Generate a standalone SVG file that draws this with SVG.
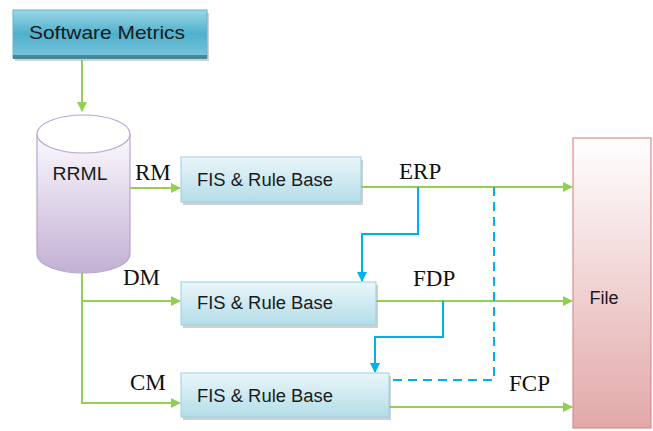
<svg xmlns="http://www.w3.org/2000/svg" width="653" height="431" viewBox="0 0 653 431">
<defs>
<linearGradient id="gTop" x1="0" y1="0" x2="0" y2="1">
<stop offset="0" stop-color="#9dd6e6"/>
<stop offset="0.5" stop-color="#4fb0cc"/>
<stop offset="1" stop-color="#7cc6dc"/>
</linearGradient>
<linearGradient id="gBox" x1="0" y1="0" x2="0" y2="1">
<stop offset="0" stop-color="#eaf6fa"/>
<stop offset="1" stop-color="#b3dde8"/>
</linearGradient>
<linearGradient id="gCyl" x1="0" y1="0" x2="0" y2="1">
<stop offset="0" stop-color="#fbf9fd"/>
<stop offset="1" stop-color="#c3b0d4"/>
</linearGradient>
<linearGradient id="gFile" x1="0" y1="0" x2="0" y2="1">
<stop offset="0" stop-color="#ffffff"/>
<stop offset="1" stop-color="#e2a8a8"/>
</linearGradient>
<marker id="ag" markerWidth="10" markerHeight="10" refX="9" refY="5" orient="auto" markerUnits="userSpaceOnUse">
<path d="M0,0 L10,5 L0,10 Z" fill="#92d050"/>
</marker>
<marker id="ab" markerWidth="10" markerHeight="10" refX="9" refY="5" orient="auto" markerUnits="userSpaceOnUse">
<path d="M0,0 L10,5 L0,10 Z" fill="#00b0f0"/>
</marker>
</defs>
<style>
.green{fill:none;stroke:#92d050;stroke-width:2}
.blue{fill:none;stroke:#00b0f0;stroke-width:2}
.dash{stroke-dasharray:9,6}
.box{fill:url(#gBox);stroke:#9ccfdd;stroke-width:1}
.shadow{fill:#9a9a9a;opacity:0.45}
.sans{font-family:"Liberation Sans",Arial,sans-serif;fill:#1a1a1a}
.serif{font-family:"Liberation Serif","Times New Roman",serif;font-size:23px;fill:#111}
</style>

<g id="connectors">
<path class="green" d="M82,60 V111" marker-end="url(#ag)"/>
<path class="green" d="M130,188 H180" marker-end="url(#ag)"/>
<path class="green" d="M82,272 V403 H180" marker-end="url(#ag)"/>
<path class="green" d="M82,301 H180" marker-end="url(#ag)"/>
<path class="green" d="M361,187 H572" marker-end="url(#ag)"/>
<path class="green" d="M376,301 H572" marker-end="url(#ag)"/>
<path class="green" d="M389,407 H572" marker-end="url(#ag)"/>
<path class="blue" d="M418,187 V234 H362 V281" marker-end="url(#ab)"/>
<path class="blue" d="M443,301 V337 H375 V372" marker-end="url(#ab)"/>
<path class="blue dash" d="M494,187 V380 H391"/>
</g>

<g id="software-metrics">
<rect x="15" y="13" width="194" height="48" class="shadow"/>
<rect x="13" y="10" width="194" height="48" fill="url(#gTop)" stroke="#5cb6cf" stroke-width="1"/>
<rect x="13" y="55" width="194" height="4" fill="#2f6f80" opacity="0.7"/>
<text x="107" y="39" text-anchor="middle" class="sans" font-size="19" textLength="156" lengthAdjust="spacingAndGlyphs">Software Metrics</text>
</g>

<g id="rrml">
<path d="M37,134 V254 A46.5,19 0 0 0 130,254 V134" fill="url(#gCyl)" stroke="#b7a5cf" stroke-width="1.2"/>
<ellipse cx="83.5" cy="134" rx="46.5" ry="19" fill="#ffffff" stroke="#b7a5cf" stroke-width="1.2"/>
<text x="80" y="180" text-anchor="middle" class="sans" font-size="18" textLength="55" lengthAdjust="spacingAndGlyphs">RRML</text>
</g>

<g id="fis1">
<rect x="183" y="160" width="180" height="45" class="shadow"/>
<rect x="181" y="157" width="180" height="45" class="box"/>
<text x="265" y="186" text-anchor="middle" class="sans" font-size="18" textLength="136" lengthAdjust="spacingAndGlyphs">FIS &amp; Rule Base</text>
</g>

<g id="fis2">
<rect x="183" y="285" width="195" height="43" class="shadow"/>
<rect x="181" y="282" width="195" height="43" class="box"/>
<text x="265" y="309" text-anchor="middle" class="sans" font-size="18" textLength="136" lengthAdjust="spacingAndGlyphs">FIS &amp; Rule Base</text>
</g>

<g id="fis3">
<rect x="183" y="376" width="208" height="44" class="shadow"/>
<rect x="181" y="373" width="208" height="44" class="box"/>
<text x="265" y="402" text-anchor="middle" class="sans" font-size="18" textLength="136" lengthAdjust="spacingAndGlyphs">FIS &amp; Rule Base</text>
</g>

<g id="file">
<rect x="573" y="138" width="78" height="290" fill="url(#gFile)" stroke="#d98e8e" stroke-width="1.2"/>
<text x="604" y="304" text-anchor="middle" class="sans" font-size="18">File</text>
</g>

<g id="labels">
<text x="135" y="180" class="serif">RM</text>
<text x="123" y="285" class="serif">DM</text>
<text x="130" y="390" class="serif">CM</text>
<text x="399" y="179" class="serif">ERP</text>
<text x="413" y="286" class="serif">FDP</text>
<text x="509" y="391" class="serif">FCP</text>
</g>
</svg>
